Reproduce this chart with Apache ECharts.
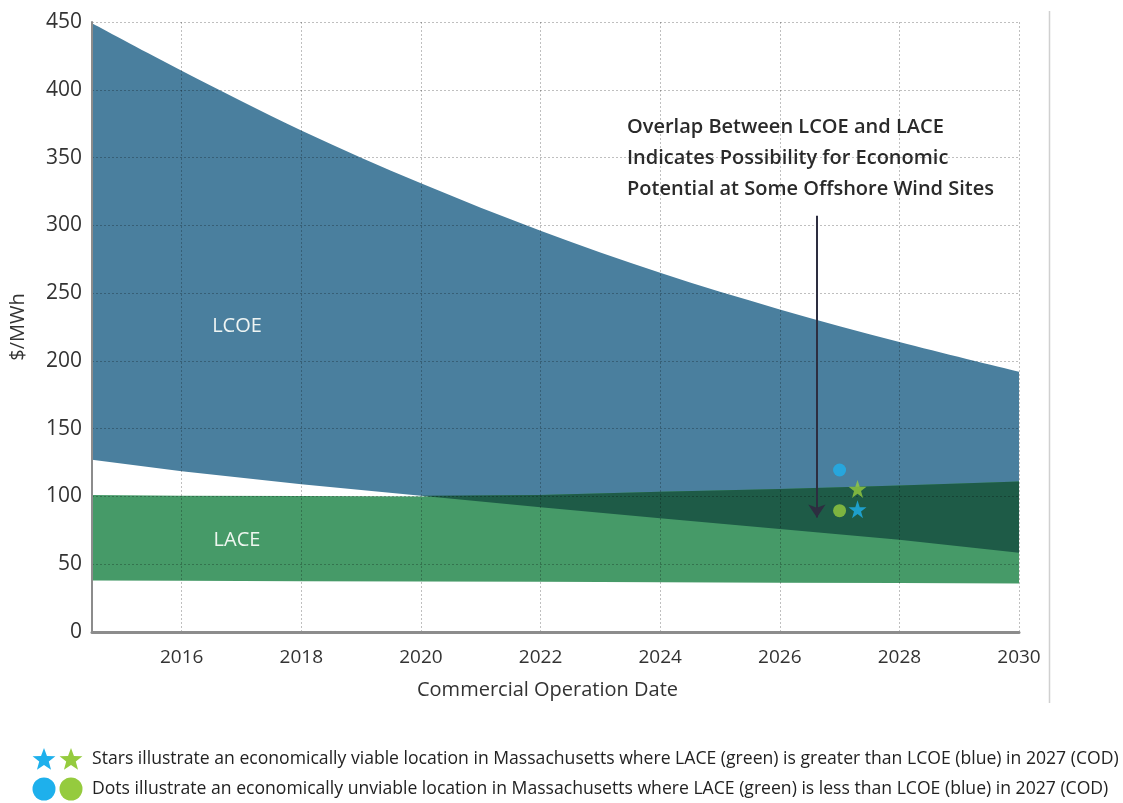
<!DOCTYPE html>
<html>
<head>
<meta charset="utf-8">
<script src="https://cdn.jsdelivr.net/npm/echarts@6/dist/echarts.min.js"></script>
<style>
  html, body { margin: 0; padding: 0; background: #ffffff; }
  #main { width: 1123px; height: 803px; }
</style>
</head>
<body>
<div id="main"></div>
<script>
// Commercial operation date (years) at which the cost bands are sampled
const years    = [2014.5, 2016, 2018, 2020, 2022, 2024, 2026, 2028, 2030];
// Levelized cost of energy range, $/MWh
const lcoeHigh = [449, 414, 370, 331, 296, 265, 238, 214, 192];
const lcoeLow  = [127, 118.5, 109, 100.5, 92, 84, 76, 68, 58.5];
// Levelized avoided cost of energy range, $/MWh
const laceHigh = [101, 100.5, 100.3, 100, 101, 103.5, 105.5, 108, 111];
const laceLow  = [38, 37.8, 37.5, 37.2, 37, 36.7, 36.4, 36.1, 35.8];

// Axis ticks
const xTickValues = [2016, 2018, 2020, 2022, 2024, 2026, 2028, 2030];
const yTickValues = [0, 50, 100, 150, 200, 250, 300, 350, 400, 450];

// Massachusetts sites in 2027 (COD): [year, $/MWh]
const viableLcoe   = [2027.3, 90.5];   // blue star
const viableLace   = [2027.3, 105.5];  // green star
const unviableLcoe = [2027.0, 119.5];  // blue dot
const unviableLace = [2027.0, 89.5];   // green dot

const COLOR_LCOE = '#4a7f9e';
const COLOR_LACE = '#469a68';
const COLOR_OVERLAP = '#1e5b47';
const COLOR_SITE_BLUE = '#1eb0ec';
const COLOR_SITE_GREEN = '#95cb3e';
const STAR_PATH = 'M50 0L61.8 35.1H98.1L68.8 56.7L79.4 91.8L50 70.3L20.6 91.8L31.2 56.7L1.9 35.1H38.2Z';

// Five-pointed star outline for the key icons
function starPoints(cx, cy, rOuter) {
  const rInner = rOuter * 0.42;
  const pts = [];
  for (let k = 0; k < 10; k++) {
    const r = k % 2 === 0 ? rOuter : rInner;
    const a = -Math.PI / 2 + k * Math.PI / 5;
    pts.push([cx + r * Math.cos(a), cy + r * Math.sin(a)]);
  }
  return pts;
}

// Path through pixel points: straight segments, or Catmull-Rom curves when smooth
function edgePath(pts, smooth, moveFirst) {
  let d = (moveFirst ? 'M' : 'L') + pts[0][0] + ' ' + pts[0][1];
  for (let i = 0; i < pts.length - 1; i++) {
    const p1 = pts[i], p2 = pts[i + 1];
    if (!smooth) { d += 'L' + p2[0] + ' ' + p2[1]; continue; }
    const p0 = pts[Math.max(0, i - 1)], p3 = pts[Math.min(pts.length - 1, i + 2)];
    const c1 = [p1[0] + (p2[0] - p0[0]) / 6, p1[1] + (p2[1] - p0[1]) / 6];
    const c2 = [p2[0] - (p3[0] - p1[0]) / 6, p2[1] - (p3[1] - p1[1]) / 6];
    d += 'C' + c1[0] + ' ' + c1[1] + ' ' + c2[0] + ' ' + c2[1] + ' ' + p2[0] + ' ' + p2[1];
  }
  return d;
}

// Filled band between a lower and an upper boundary, projected through the axes
function bandSeries(name, lower, upper, color, smoothTop) {
  return {
    type: 'custom', name: name, silent: true, clip: true,
    data: years.map((x, i) => [x, lower[i], upper[i]]),
    encode: { x: 0, y: [1, 2] },
    renderItem: function (params, api) {
      if (params.dataIndex !== 0) return null;
      const top = years.map((x, i) => api.coord([x, upper[i]]));
      const bottom = years.map((x, i) => api.coord([x, lower[i]])).reverse();
      const d = edgePath(top, smoothTop, true) + edgePath(bottom, false, false) + 'Z';
      return {
        type: 'path',
        shape: { pathData: d },
        style: { fill: color, stroke: null }
      };
    }
  };
}

// Overlap of both bands: from the LCOE floor up to the LACE ceiling
const overlapTop = years.map((x, i) => Math.max(lcoeLow[i], laceHigh[i]));

const font = '"Open Sans", "DejaVu Sans", sans-serif';

const chart = echarts.init(document.getElementById('main'), null, { renderer: 'canvas' });

const option = {
  animation: false,
  backgroundColor: '#ffffff',
  grid: { left: 92, right: 104, top: 22, bottom: 171, containLabel: false },
  xAxis: {
    type: 'value', min: 2014.5, max: 2030, z: 3,
    name: 'Commercial Operation Date', nameLocation: 'middle', nameGap: 48,
    nameTextStyle: { fontFamily: font, fontSize: 20, color: '#333333', padding: [0, 16, 0, 0] },
    axisLine: { show: true, onZero: false, lineStyle: { color: '#8c8c8c', width: 3 } },
    axisTick: { show: false, customValues: xTickValues },
    axisLabel: {
      customValues: xTickValues, fontFamily: font, fontSize: 19, color: '#333333', margin: 16,
      formatter: (v) => String(v)
    },
    splitLine: { show: true, lineStyle: { type: [2, 2], color: 'rgba(0,0,0,0.25)', width: 1 } }
  },
  yAxis: {
    type: 'value', min: 0, max: 450, interval: 50, z: 3,
    name: '$/MWh', nameLocation: 'middle', nameGap: 64, nameRotate: 90,
    nameTextStyle: { fontFamily: font, fontSize: 20, color: '#333333' },
    axisLine: { show: true, lineStyle: { color: '#8c8c8c', width: 2 } },
    axisTick: { show: false },
    axisLabel: {
      fontFamily: font, fontSize: 21, color: '#333333', margin: 10,
      formatter: (v) => (yTickValues.indexOf(v) >= 0 ? String(v) : '')
    },
    splitLine: { show: true, lineStyle: { type: [2, 2], color: 'rgba(0,0,0,0.25)', width: 1 } }
  },
  series: [
    bandSeries('LCOE', lcoeLow, lcoeHigh, COLOR_LCOE, true),
    bandSeries('LACE', laceLow, laceHigh, COLOR_LACE, false),
    bandSeries('Overlap', lcoeLow, overlapTop, COLOR_OVERLAP, false),
    {
      type: 'scatter', z: 6, silent: true,
      data: [
        { value: unviableLcoe, symbol: 'circle', symbolSize: 13, itemStyle: { color: COLOR_SITE_BLUE } },
        { value: unviableLace, symbol: 'circle', symbolSize: 13, itemStyle: { color: COLOR_SITE_GREEN } },
        { value: viableLace, symbol: 'path://' + STAR_PATH, symbolSize: 18, itemStyle: { color: COLOR_SITE_GREEN } },
        { value: viableLcoe, symbol: 'path://' + STAR_PATH, symbolSize: 18, itemStyle: { color: COLOR_SITE_BLUE } }
      ],
      markLine: {
        silent: true, animation: false,
        symbol: ['none', 'arrow'], symbolSize: 13,
        lineStyle: { color: '#2d2e40', width: 2, type: 'solid' },
        label: { show: false },
        data: [[{ coord: [2026.62, 307] }, { coord: [2026.62, 84.5] }]]
      }
    }
  ],
  graphic: [
    {
      type: 'text', x: 237, y: 326, z: 10, silent: true,
      style: { text: 'LCOE', fill: '#eef4f3', font: '20px ' + font,
               align: 'center', verticalAlign: 'middle', textAlign: 'center', textVerticalAlign: 'middle' }
    },
    {
      type: 'text', x: 237, y: 540, z: 10, silent: true,
      style: { text: 'LACE', fill: '#eef6ef', font: '20px ' + font,
               align: 'center', verticalAlign: 'middle', textAlign: 'center', textVerticalAlign: 'middle' }
    },
    {
      type: 'text', x: 627, y: 112, z: 10, silent: true,
      style: {
        text: 'Overlap Between LCOE and LACE\nIndicates Possibility for Economic\nPotential at Some Offshore Wind Sites',
        fill: '#2a2a2a', font: '600 20px ' + font, lineHeight: 31
      }
    },
    {
      type: 'line', z: 1, silent: true,
      shape: { x1: 1049.5, y1: 11, x2: 1049.5, y2: 703 },
      style: { stroke: '#d0d0d0', lineWidth: 1.5 }
    },
    // Key below the chart
    {
      type: 'polygon', silent: true,
      shape: { points: starPoints(44, 760, 12) },
      style: { fill: COLOR_SITE_BLUE }
    },
    {
      type: 'polygon', silent: true,
      shape: { points: starPoints(71, 760, 12) },
      style: { fill: COLOR_SITE_GREEN }
    },
    {
      type: 'circle', silent: true,
      shape: { cx: 44, cy: 789, r: 11.5 },
      style: { fill: COLOR_SITE_BLUE }
    },
    {
      type: 'circle', silent: true,
      shape: { cx: 71, cy: 789, r: 11.5 },
      style: { fill: COLOR_SITE_GREEN }
    },
    {
      type: 'text', x: 92, y: 759, silent: true,
      style: {
        text: 'Stars illustrate an economically viable location in Massachusetts where LACE (green) is greater than LCOE (blue) in 2027 (COD)',
        fill: '#222222', font: '17.6px ' + font, verticalAlign: 'middle', textVerticalAlign: 'middle'
      }
    },
    {
      type: 'text', x: 92, y: 789, silent: true,
      style: {
        text: 'Dots illustrate an economically unviable location in Massachusetts where LACE (green) is less than LCOE (blue) in 2027 (COD)',
        fill: '#222222', font: '17.6px ' + font, verticalAlign: 'middle', textVerticalAlign: 'middle'
      }
    }
  ]
};

chart.setOption(option);
</script>
</body>
</html>
